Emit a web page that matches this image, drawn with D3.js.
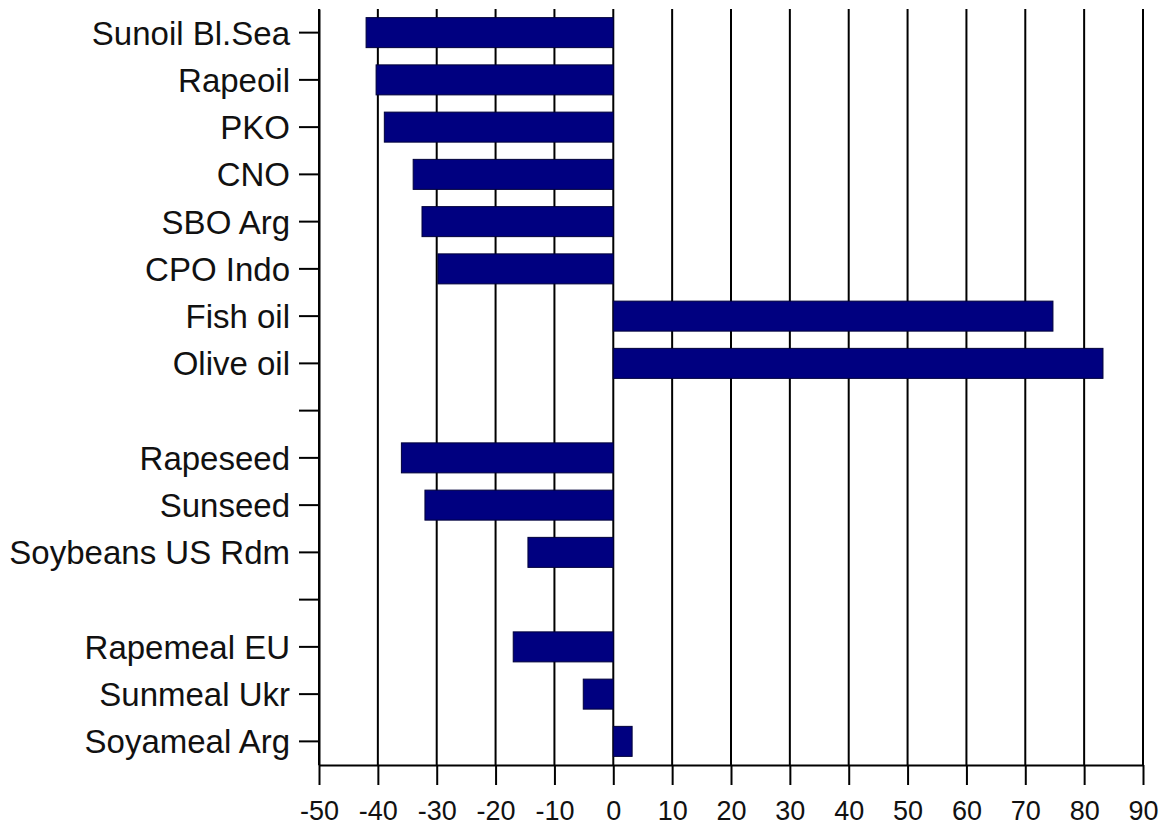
<!DOCTYPE html>
<html>
<head>
<meta charset="utf-8">
<script src="https://cdn.jsdelivr.net/npm/d3@7"></script>
<style>
  body { margin: 0; background: #fff; }
  svg { display: block; }
  .axis text { font-family: "Liberation Sans", Arial, sans-serif; fill: #111; }
  .axis path, .axis line { stroke: #000; stroke-width: 2; }
  .grid line { stroke: #000; stroke-width: 2; }
</style>
</head>
<body>
<svg id="chart"></svg>
<script>
// Categories top to bottom, '' marks an empty gap row
const categories = [
  'Sunoil Bl.Sea', 'Rapeoil', 'PKO', 'CNO', 'SBO Arg', 'CPO Indo', 'Fish oil', 'Olive oil',
  '',
  'Rapeseed', 'Sunseed', 'Soybeans US Rdm',
  '',
  'Rapemeal EU', 'Sunmeal Ukr', 'Soyameal Arg'
];
const values = [
  -42, -40.3, -38.9, -34, -32.5, -29.8, 74.7, 83.2,
  null,
  -36, -32, -14.5,
  null,
  -17, -5.1, 3.2
];
const xTicks = [-50, -40, -30, -20, -10, 0, 10, 20, 30, 40, 50, 60, 70, 80, 90];

const config = {
  width: 1163,
  height: 828,
  margin: {top: 9, right: 20, bottom: 63, left: 319}
};

const innerW = config.width - config.margin.left - config.margin.right;
const innerH = config.height - config.margin.top - config.margin.bottom;

const svg = d3.select('#chart')
    .attr('width', config.width)
    .attr('height', config.height);

const chart = svg.append('g')
    .attr('transform', `translate(${config.margin.left},${config.margin.top})`);

const xScale = d3.scaleLinear()
    .domain([-50, 90])
    .range([0, innerW]);

const yScale = d3.scaleBand()
    .domain(d3.range(categories.length))
    .range([0, innerH])
    .paddingInner(0.365)
    .paddingOuter(0.1825);

// vertical grid lines
chart.append('g')
    .attr('class', 'grid')
  .selectAll('line')
    .data(xTicks)
  .join('line')
    .attr('x1', d => xScale(d))
    .attr('x2', d => xScale(d))
    .attr('y1', 0)
    .attr('y2', innerH);

// bars
const data = categories.map((c, i) => ({i, key: c, value: values[i]}))
    .filter(d => d.value !== null);

chart.selectAll('.bar')
    .data(data)
  .join('rect')
    .attr('class', 'bar')
    .attr('x', d => xScale(Math.min(0, d.value)))
    .attr('width', d => Math.abs(xScale(d.value) - xScale(0)))
    .attr('y', d => yScale(d.i))
    .attr('height', yScale.bandwidth())
    .attr('fill', '#000080')
    .attr('stroke', '#00003a')
    .attr('stroke-width', 1);

// axes
const xAxis = d3.axisBottom(xScale)
    .tickValues(xTicks)
    .tickSize(20)
    .tickSizeOuter(0)
    .tickPadding(16)
    .tickFormat(d => d < 0 ? '-' + Math.abs(d) : d);

const yAxis = d3.axisLeft(yScale)
    .tickSize(20)
    .tickSizeOuter(0)
    .tickPadding(9)
    .tickFormat(i => categories[i]);

chart.append('g')
    .attr('class', 'axis x-axis')
    .attr('transform', `translate(0,${innerH})`)
    .call(xAxis)
    .selectAll('text')
    .style('font-size', '27px');

chart.append('g')
    .attr('class', 'axis y-axis')
    .call(yAxis)
    .selectAll('text')
    .style('font-size', '33px')
    .attr('dy', '0.36em');
</script>
</body>
</html>
